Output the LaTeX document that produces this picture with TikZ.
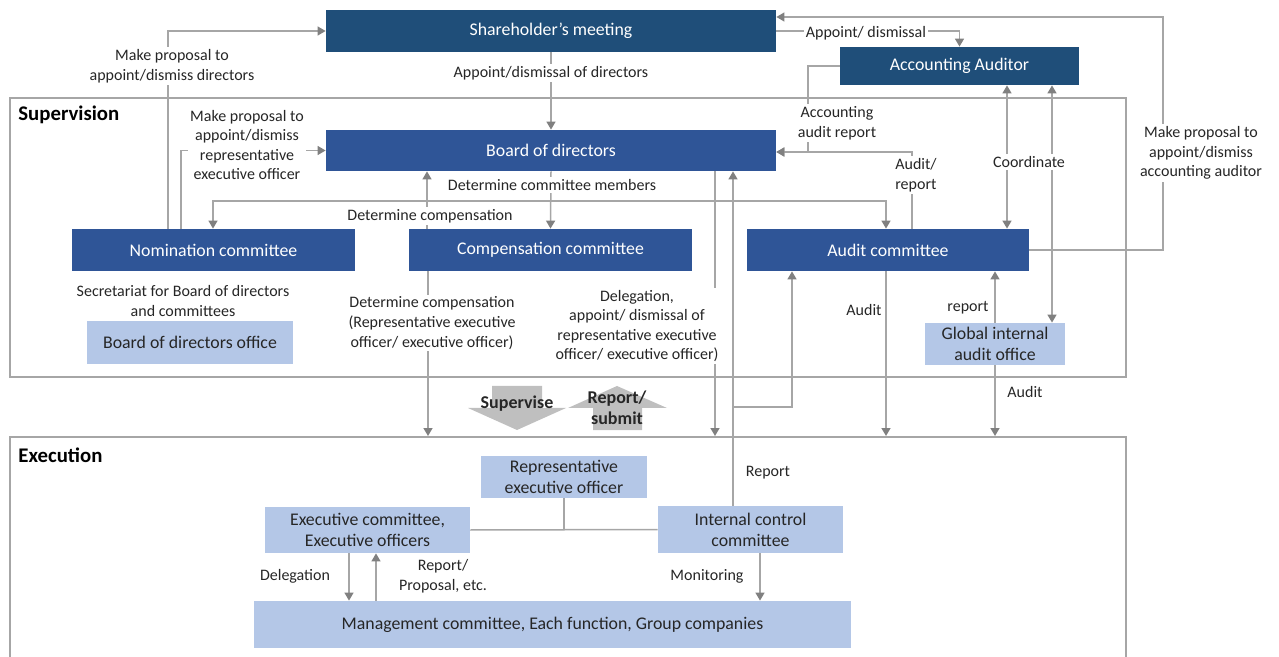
\documentclass[tikz,border=0pt]{standalone}
\usepackage{fontspec}
\setmainfont{Carlito}
\usetikzlibrary{arrows.meta}
\definecolor{darkb}{HTML}{1F4E79}
\definecolor{midb}{HTML}{2F5597}
\definecolor{lightb}{HTML}{B4C7E7}
\definecolor{lg}{HTML}{A6A6A6}
\definecolor{ag}{HTML}{808080}
\definecolor{bigg}{HTML}{BFBFBF}
\definecolor{txt}{HTML}{262626}
\tikzset{
 wh/.style 2 args={minimum width=#1*0.5pt, minimum height=#2*0.5pt},
 box/.style={inner sep=0pt, align=center, font=\fontsize{8.9}{10.4}\selectfont},
 darkbox/.style={box, fill=darkb, text=white},
 midbox/.style={box, fill=midb, text=white},
 lightbox/.style={box, fill=lightb, text=txt},
 frame/.style={draw=lg, line width=1pt, inner sep=0pt},
 conn/.style={draw=lg, line width=0.75pt, -{Triangle[width=4.5pt,length=4pt,color=ag]}},
 conn2/.style={draw=lg, line width=0.75pt, {Triangle[width=4.5pt,length=4pt,color=ag]}-{Triangle[width=4.5pt,length=4pt,color=ag]}},
 plain/.style={draw=lg, line width=0.75pt},
 lbl/.style={font=\fontsize{8}{9.8}\selectfont, text=txt, align=center, inner sep=1pt},
 wlbl/.style={lbl, fill=white},
 head/.style={font=\bfseries\fontsize{10.4}{12}\selectfont, text=black, anchor=west, inner sep=0pt},
 bigarrow/.style={fill=bigg, draw=none},
 bigtxt/.style={font=\bfseries\fontsize{9}{10.6}\selectfont, text=txt, align=center, inner sep=0pt},
}
\begin{document}
\begin{tikzpicture}[x=0.5pt,y=-0.5pt]
\useasboundingbox (0,0) rectangle (1279,657);
% frames
\node[frame, wh={1116}{279}] (sup) at (568,237.5) {};
\node[frame, wh={1116}{263}] (exe) at (568,568.5) {};
\node[head] (suplbl) at (18,115) {Supervision};
\node[head] (exelbl) at (18,455) {Execution};
% boxes
\node[darkbox, wh={450}{42}] (sh) at (551,31) {Shareholder’s meeting};
\node[darkbox, wh={239}{38}] (aa) at (959.5,66) {Accounting Auditor};
\node[midbox, wh={450}{41}] (bod) at (551,150.5) {Board of directors};
\node[midbox, wh={283}{42}] (nom) at (213.5,250) {Nomination committee};
\node[midbox, wh={283}{42}] (comp) at (550.5,250) {Compensation committee};
\node[midbox, wh={282}{42}] (aud) at (888,250) {Audit committee};
\node[lightbox, wh={206}{43}] (bodo) at (190,342.5) {Board of directors office};
\node[lightbox, wh={140}{42}] (giao) at (995,344) {Global internal\\audit office};
\node[lightbox, wh={166}{42}] (reo) at (564,477) {Representative\\executive officer};
\node[lightbox, wh={205}{46}] (exc) at (367.5,530) {Executive committee,\\Executive officers};
\node[lightbox, wh={185}{47}] (icc) at (750.5,529.5) {Internal control\\committee};
\node[lightbox, wh={597}{47}] (mgmt) at (552.5,624.5) {Management committee, Each function, Group companies};
% helper coordinates
\coordinate (split) at (bod.south |- 0,201);
\coordinate (j1) at (733,407);
% connectors
\draw[conn] (nom.north -| 168,0) |- (sh.west);
\draw[conn] (nom.north -| 181,0) |- (bod.west);
\draw[conn] (sh.south) -- (bod.north);
\draw[conn] (sh.east) -| (aa.north);
\draw[conn] (aud.east) -| (1163,17) -- (sh.east |- 0,17);
\draw[conn] (aa.west) -| (808,152) -- (bod.east |- 0,152);
\draw[conn] (aud.north -| 912,0) |- (bod.east |- 0,152);
\draw[conn2] (aa.south -| 1007,0) -- (aud.north -| 1007,0);
\draw[conn2] (aa.south -| 1052,0) -- (giao.north -| 1052,0);
\draw[conn] (bod.south) -- (comp.north);
\draw[conn] (split) -| (nom.north -| 213,0);
\draw[conn] (split) -| (aud.north -| 886,0);
\draw[conn] (comp.north -| 427,0) -- (bod.south -| 427,0);
\draw[conn] (comp.south -| 428,0) -- (exe.north -| 428,0);
\draw[conn] (bod.south -| 715,0) -- (exe.north -| 715,0);
\draw[conn] (icc.north -| 733,0) -- (bod.south -| 733,0);
\draw[conn] (j1) -| (aud.south -| 792,0);
\draw[conn] (aud.south -| 886,0) -- (exe.north -| 886,0);
\draw[conn] (giao.north -| 995,0) -- (aud.south -| 995,0);
\draw[conn] (giao.south -| 995,0) -- (exe.north -| 995,0);
\draw[plain] (reo.south) -- (reo.south |- exc.east);
\draw[plain] (exc.east) -- (icc.west);
\draw[conn] (exc.south -| 349,0) -- (mgmt.north -| 349,0);
\draw[conn] (mgmt.north -| 376,0) -- (exc.south -| 376,0);
\draw[conn] (icc.south -| 760,0) -- (mgmt.north -| 760,0);
% big arrows
\fill[bigarrow] (492,386) -- (542,386) -- (542,408) -- (566,408) -- (517,430) -- (468,408) -- (492,408) -- cycle;
\fill[bigarrow] (617,386) -- (667,408) -- (642,408) -- (642,430) -- (593,430) -- (593,408) -- (568,408) -- cycle;
\node[bigtxt] (supv) at (517,404) {Supervise};
\node[bigtxt] (repsub) at (617,408) {Report/\\submit};
% labels
\node[wlbl] (l1) at (172,66) {Make proposal to\\appoint/dismiss directors};
\node[wlbl] (l2) at (247,145) {Make proposal to\\appoint/dismiss\\representative\\executive officer};
\node[wlbl] (l3) at (551,73) {Appoint/dismissal of directors};
\node[wlbl] (l4) at (866,33) {Appoint/ dismissal};
\node[wlbl] (l5) at (1201,153) {Make proposal to\\appoint/dismiss\\accounting auditor};
\node[wlbl] (l6) at (837,123) {Accounting\\audit report};
\node[wlbl, align=left] (l7) at (916,175) {Audit/\\report};
\node[wlbl] (l8) at (1029,162) {Coordinate};
\node[wlbl] (l9) at (552,185) {Determine committee members};
\node[wlbl] (l10) at (430,216) {Determine compensation};
\node[lbl] (l11) at (183,301) {Secretariat for Board of directors\\and committees};
\node[wlbl] (l12) at (432,323) {Determine compensation\\(Representative executive\\officer/ executive officer)};
\node[wlbl] (l13) at (637,326) {Delegation,\\appoint/ dismissal of\\representative executive\\officer/ executive officer)};
\node[lbl] (l14) at (864,310) {Audit};
\node[lbl] (l15) at (968,308) {report};
\node[lbl] (l16) at (1025,392) {Audit};
\node[lbl] (l17) at (768,473) {Report};
\node[lbl] (l18) at (295,576) {Delegation};
\node[lbl] (l19) at (443,576) {Report/\\Proposal, etc.};
\node[lbl] (l20) at (707,576) {Monitoring};
\end{tikzpicture}
\end{document}
